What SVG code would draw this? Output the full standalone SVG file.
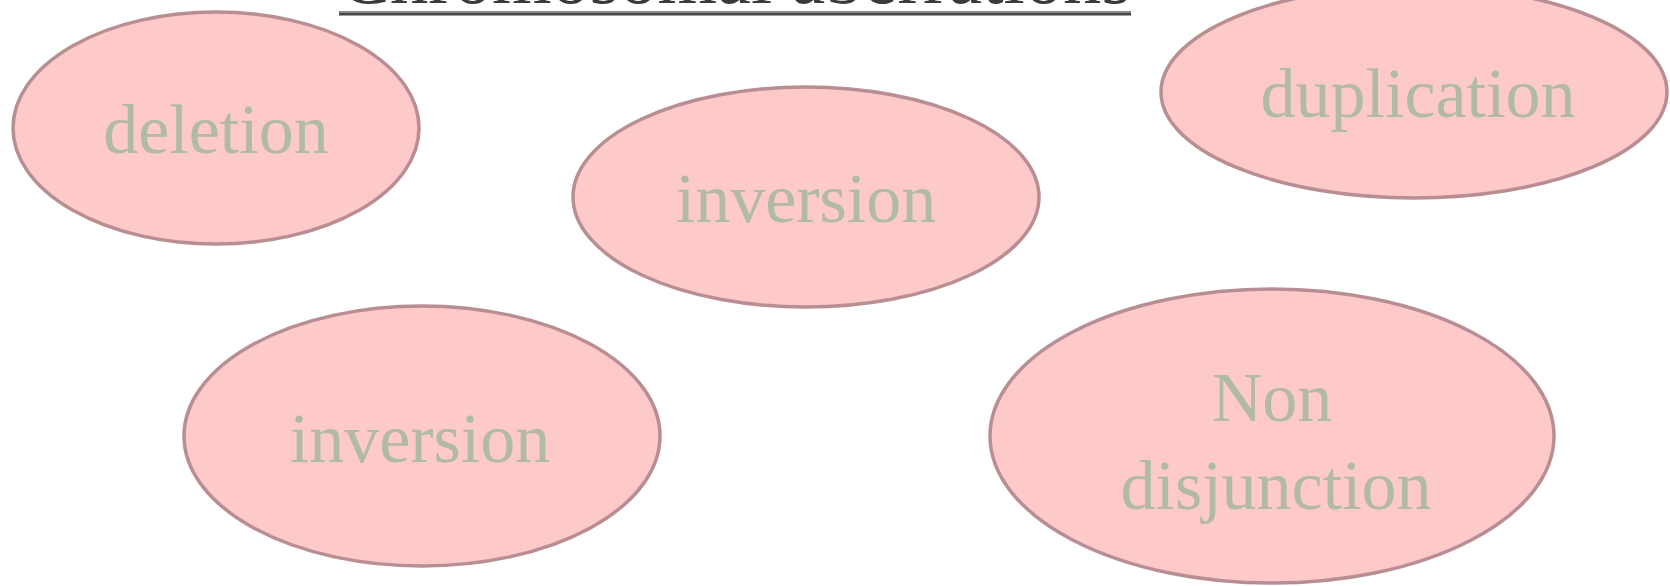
<svg xmlns="http://www.w3.org/2000/svg" width="1670" height="586" viewBox="0 0 1670 586">
  <style>
    .bubble { fill: #fdc9c9; stroke: #b88e93; stroke-width: 3.5; }
    .label { font-family: "Liberation Serif", "Times New Roman", serif; font-size: 70px; fill: #b0baa4; text-anchor: middle; }
    .title { font-family: "Liberation Serif", "Times New Roman", serif; font-size: 76px; fill: #3a3a3a; }
  </style>
  <rect width="1670" height="586" fill="#ffffff"/>

  <!-- heading (runs off the top edge) with its underline -->
  <g id="heading">
    <text class="title" x="339" y="3" textLength="792" lengthAdjust="spacingAndGlyphs">Chromosomal aberrations</text>
    <rect x="339" y="11" width="792" height="2" fill="#8a8a8a"/>
    <rect x="339" y="13" width="792" height="2.5" fill="#454545"/>
  </g>

  <g id="connectors"></g>

  <g id="node-deletion">
    <ellipse class="bubble" cx="216" cy="128" rx="203" ry="116"/>
    <text class="label" x="216" y="153">deletion</text>
  </g>

  <g id="node-inversion-top">
    <ellipse class="bubble" cx="806" cy="197" rx="233" ry="110"/>
    <text class="label" x="806" y="222">inversion</text>
  </g>

  <g id="node-duplication">
    <ellipse class="bubble" cx="1414" cy="92" rx="253" ry="106"/>
    <text class="label" x="1418" y="117">duplication</text>
  </g>

  <g id="node-inversion-bottom">
    <ellipse class="bubble" cx="422" cy="436" rx="238" ry="130"/>
    <text class="label" x="420" y="462">inversion</text>
  </g>

  <g id="node-nondisjunction">
    <ellipse class="bubble" cx="1272" cy="436" rx="282" ry="147"/>
    <text class="label" x="1272" y="421">Non</text>
    <text class="label" x="1276" y="509">disjunction</text>
  </g>
</svg>
